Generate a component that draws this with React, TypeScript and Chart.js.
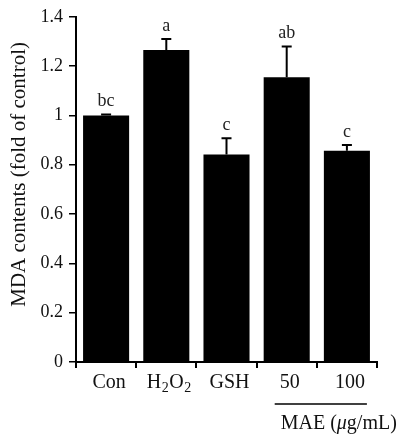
import React, { useEffect, useRef } from "react";
import { Chart, registerables } from "chart.js";

Chart.register(...registerables);

const categories = ["Con", "H₂O₂", "GSH", "50", "100"];
const means = [1.0, 1.265, 0.842, 1.155, 0.857];
const errors = [0.004, 0.045, 0.065, 0.125, 0.023];
const letters = ["bc", "a", "c", "ab", "c"];
const yTickLabels = ["0", "0.2", "0.4", "0.6", "0.8", "1", "1.2", "1.4"];
const yTitle = "MDA contents (fold of control)";
const groupPrefix = "MAE (";
const groupMu = "μ";
const groupSuffix = "g/mL)";
const groupStart = 3;
const groupEnd = 4;

const FONT = "'Liberation Serif', 'Times New Roman', serif";
const SUBS = "₀₁₂₃₄₅₆₇₈₉";

function drawRich(ctx: CanvasRenderingContext2D, text: string, cx: number, baseline: number, size: number) {
  const segs: { t: string; sub: boolean }[] = [];
  for (const ch of text) {
    const idx = SUBS.indexOf(ch);
    const sub = idx >= 0;
    const c = sub ? String(idx) : ch;
    const last = segs[segs.length - 1];
    if (last && last.sub === sub) last.t += c;
    else segs.push({ t: c, sub });
  }
  const subSize = Math.round(size * 0.68);
  let total = 0;
  const widths: number[] = [];
  for (const s of segs) {
    ctx.font = `${s.sub ? subSize : size}px ${FONT}`;
    const w = ctx.measureText(s.t).width + (s.sub ? 1 : 0);
    widths.push(w);
    total += w;
  }
  let x = cx - total / 2;
  ctx.textAlign = "left";
  ctx.textBaseline = "alphabetic";
  segs.forEach((s, i) => {
    ctx.font = `${s.sub ? subSize : size}px ${FONT}`;
    ctx.fillText(s.t, x + (s.sub ? 0.5 : 0), baseline + (s.sub ? size * 0.22 : 0));
    x += widths[i];
  });
}

const annotations = {
  id: "annotations",
  afterDatasetsDraw(chart: any) {
    const ctx = chart.ctx as CanvasRenderingContext2D;
    const xs = chart.scales.x;
    const ys = chart.scales.y;
    const meta = chart.getDatasetMeta(0);
    ctx.save();
    // error bars
    ctx.strokeStyle = "#000";
    ctx.lineWidth = 2;
    meta.data.forEach((bar: any, i: number) => {
      const x = bar.x;
      const yTop = ys.getPixelForValue(means[i]);
      const yErr = ys.getPixelForValue(means[i] + errors[i]);
      ctx.beginPath();
      ctx.moveTo(x, yTop);
      ctx.lineTo(x, yErr);
      ctx.moveTo(x - 5, yErr);
      ctx.lineTo(x + 5, yErr);
      ctx.stroke();
      // significance letters
      ctx.fillStyle = "#222";
      ctx.font = `18px ${FONT}`;
      ctx.textAlign = "center";
      ctx.textBaseline = "alphabetic";
      ctx.fillText(letters[i], x, yErr - 8);
    });
    // category labels
    ctx.fillStyle = "#111";
    categories.forEach((c, i) => {
      drawRich(ctx, c, xs.getPixelForValue(i) + 3, 388, 20);
    });
    // group line and label
    const gx0 = xs.getPixelForValue(groupStart) - 12;
    const gx1 = xs.getPixelForValue(groupEnd) + 20;
    ctx.strokeStyle = "#000";
    ctx.lineWidth = 1.5;
    ctx.beginPath();
    ctx.moveTo(gx0, 404);
    ctx.lineTo(gx1, 404);
    ctx.stroke();
    let tx = gx0 + 6;
    ctx.textAlign = "left";
    ctx.font = `20px ${FONT}`;
    ctx.fillText(groupPrefix, tx, 429);
    tx += ctx.measureText(groupPrefix).width;
    ctx.font = `italic 20px ${FONT}`;
    ctx.fillText(groupMu, tx, 429);
    tx += ctx.measureText(groupMu).width;
    ctx.font = `20px ${FONT}`;
    ctx.fillText(groupSuffix, tx, 429);
    // y title
    const cy = (ys.top + ys.bottom) / 2 - 15;
    ctx.translate(25, cy);
    ctx.rotate(-Math.PI / 2);
    ctx.textAlign = "center";
    ctx.textBaseline = "alphabetic";
    ctx.font = `21px ${FONT}`;
    ctx.fillText(yTitle, 0, 0);
    ctx.restore();
  },
};

export default function App() {
  const ref = useRef<HTMLCanvasElement | null>(null);
  useEffect(() => {
    if (!ref.current) return;
    const chart = new Chart(ref.current, {
      type: "bar",
      data: {
        labels: categories,
        datasets: [
          {
            data: means,
            backgroundColor: "#000",
            borderWidth: 0,
            categoryPercentage: 1,
            barPercentage: 0.765,
          },
        ],
      },
      options: {
        responsive: false,
        animation: false,
        layout: { padding: { top: 13, right: 21, left: 0, bottom: 0 } },
        plugins: { legend: { display: false }, tooltip: { enabled: false } },
        scales: {
          x: {
            offset: true,
            afterFit: (s: any) => {
              s.height = 72;
            },
            ticks: { display: false },
            grid: {
              offset: true,
              drawOnChartArea: false,
              drawTicks: true,
              tickLength: 6,
              color: "#000",
              lineWidth: 2,
            },
            border: { display: true, color: "#000", width: 2 },
          },
          y: {
            min: 0,
            max: 1.4,
            afterFit: (s: any) => {
              s.width = 76;
            },
            ticks: {
              stepSize: 0.2,
              padding: 6,
              color: "#111",
              font: { family: FONT, size: 18 },
              callback: (v: any) => {
                const t = yTickLabels.find((l) => Math.abs(parseFloat(l) - Number(v)) < 1e-6);
                return t ?? "";
              },
            },
            grid: {
              drawOnChartArea: false,
              drawTicks: true,
              tickLength: 7,
              color: "#000",
              lineWidth: 1.5,
            },
            border: { display: true, color: "#000", width: 2 },
          },
        },
      },
      plugins: [annotations],
    });
    return () => chart.destroy();
  }, []);
  return (
    <div style={{ position: "absolute", left: 0, top: 0, width: 398, height: 434 }}>
      <canvas ref={ref} width={398} height={434} style={{ display: "block" }} />
    </div>
  );
}
